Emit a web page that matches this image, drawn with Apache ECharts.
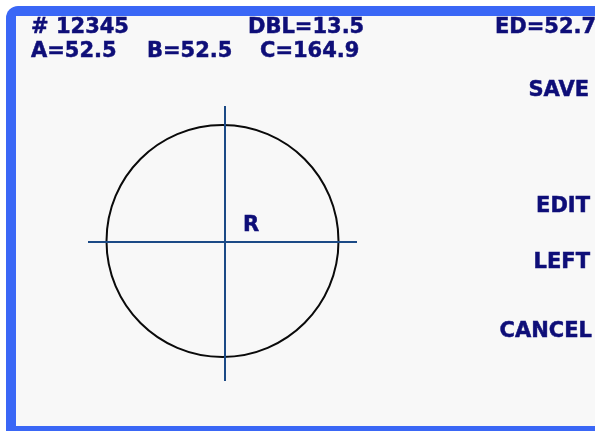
<!DOCTYPE html>
<html><head><meta charset="utf-8">
<script src="https://cdn.jsdelivr.net/npm/echarts@6/dist/echarts.min.js"></script>
<style>html,body{margin:0;padding:0;background:#fff}#c{width:595px;height:431px}</style>
</head><body><div id="c"></div>
<script>
// Header fields
const jobNumber = '# 12345';
const topFields = ['DBL=13.5', 'ED=52.7'];
const lensFields = ['A=52.5', 'B=52.5', 'C=164.9'];
// Side buttons
const buttons = ['SAVE', 'EDIT', 'LEFT', 'CANCEL'];
const eyeLabel = 'R';
// Shape data (units: px-like, origin at crosshair centre)
const circleData = [[-2.5, 1, 116]];           // cx, cy, radius
const hLine = [[-137, 0], [132, 0]];
const vLine = [[0, 136], [0, -139]];

const chart = echarts.init(document.getElementById('c'), null, {renderer: 'canvas'});
const navy = '#0e0e78';
const font = 'bold 21px "DejaVu Sans"';
function txt(t, x, y, align) {
  return {type: 'text', x: x, y: y, z: 100,
    style: {text: t, fill: navy, stroke: navy, lineWidth: 0.5, font: font,
      align: align || 'left', verticalAlign: 'middle'}};
}
const lineY1 = 28, lineY2 = 52;
const graphics = [
  {type: 'rect', z: -10, shape: {x: 6, y: 6, width: 620, height: 440, r: [12, 0, 0, 0]}, style: {fill: '#3a67f6'}},
  {type: 'rect', z: -9, shape: {x: 16, y: 16, width: 610, height: 410}, style: {fill: '#f8f8f8'}},
  txt(jobNumber, 31, lineY1),
  txt(topFields[0], 248, lineY1),
  txt(topFields[1], 495, lineY1),
  txt(lensFields[0], 31, lineY2),
  txt(lensFields[1], 147, lineY2),
  txt(lensFields[2], 260, lineY2),
  txt(buttons[0], 589, 91, 'right'),
  txt(buttons[1], 590, 206.5, 'right'),
  txt(buttons[2], 590, 263, 'right'),
  txt(buttons[3], 592, 332, 'right'),
  txt(eyeLabel, 243, 226)
];

chart.setOption({
  backgroundColor: '#ffffff',
  animation: false,
  grid: {left: 0, right: 0, top: 0, bottom: 0, containLabel: false},
  xAxis: {type: 'value', min: -225, max: 370, show: false},
  yAxis: {type: 'value', min: -189, max: 242, show: false},
  graphic: graphics,
  series: [
    {type: 'line', data: hLine, symbol: 'none', z: 5,
      lineStyle: {color: '#1b4a86', width: 2}},
    {type: 'line', data: vLine, symbol: 'none', z: 5,
      lineStyle: {color: '#1b4a86', width: 2}},
    {type: 'custom', z: 4, data: circleData,
      renderItem: function (params, api) {
        const c = api.coord([api.value(0), api.value(1)]);
        const r = api.size([api.value(2), api.value(2)]);
        return {type: 'ellipse', shape: {cx: c[0], cy: c[1], rx: r[0], ry: r[1]},
          style: {fill: 'none', stroke: '#0a0a0a', lineWidth: 2}};
      }}
  ]
});
</script></body></html>
